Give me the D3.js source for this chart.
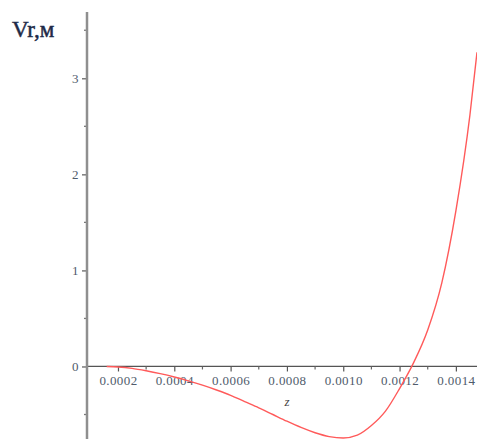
<!DOCTYPE html>
<html>
<head>
<meta charset="utf-8">
<script src="https://cdn.jsdelivr.net/npm/d3@7"></script>
<style>
  body { margin: 0; background: #fff; }
  svg { display: block; }
  .tick text { font-family: "Liberation Serif", "Times New Roman", serif; font-size: 13px; fill: #4f5b6b; letter-spacing: 0.4px; }
</style>
</head>
<body>
<div id="chart"></div>
<script>
// z values
var zValues = [0.00016, 0.0002, 0.00025, 0.0003, 0.00035, 0.0004, 0.00045, 0.0005, 0.00055, 0.0006,
  0.00065, 0.0007, 0.00075, 0.0008, 0.00085, 0.0009, 0.00095, 0.001, 0.00105, 0.0011,
  0.00115, 0.0012, 0.00125, 0.0013, 0.00135, 0.0014, 0.00145, 0.001475];
// Vr values
var vrValues = [0, -0.005, -0.02, -0.045, -0.075, -0.11, -0.15, -0.195, -0.245, -0.3,
  -0.365, -0.43, -0.5, -0.57, -0.635, -0.69, -0.73, -0.745, -0.715, -0.615,
  -0.465, -0.23, 0.04, 0.38, 0.87, 1.62, 2.62, 3.27];
var xMajorTicks = [0.0002, 0.0004, 0.0006, 0.0008, 0.0010, 0.0012, 0.0014];
var xMinorTicks = [0.0003, 0.0005, 0.0007, 0.0009, 0.0011, 0.0013];
var yMajorTicks = [0, 1, 2, 3];
var yMinorTicks = [-0.5, 0.5, 1.5, 2.5, 3.5];

var width = 477, height = 439;

var svg = d3.select("#chart").append("svg")
    .attr("width", width)
    .attr("height", height);

var x = d3.scaleLinear().domain([0.00009, 0.001475]).range([87, 477]);
var y = d3.scaleLinear().domain([-0.755, 3.69]).range([439, 12]);

// x axis
var xAxis = svg.append("g")
    .attr("transform", "translate(0," + y(0) + ")")
    .call(d3.axisBottom(x).tickValues(xMajorTicks).tickSize(5).tickPadding(4).tickFormat(d3.format(".4f")));
xAxis.select(".domain").remove();
xAxis.selectAll(".tick line").attr("stroke", "#555").attr("stroke-width", 1.2);
svg.append("line")
    .attr("x1", x.range()[0]).attr("x2", x.range()[1])
    .attr("y1", y(0)).attr("y2", y(0))
    .attr("stroke", "#555").attr("stroke-width", 1.3);
svg.append("g").selectAll("line")
    .data(xMinorTicks)
  .enter().append("line")
    .attr("x1", function(d){ return x(d) }).attr("x2", function(d){ return x(d) })
    .attr("y1", y(0)).attr("y2", y(0) + 3)
    .attr("stroke", "#666").attr("stroke-width", 1.2);

// y axis
var yAxis = svg.append("g")
    .attr("transform", "translate(" + x.range()[0] + ",0)")
    .call(d3.axisLeft(y).tickValues(yMajorTicks).tickSize(5).tickPadding(3).tickFormat(d3.format("d")));
yAxis.select(".domain").remove();
yAxis.selectAll(".tick line").attr("stroke", "#666").attr("stroke-width", 1.3);
svg.append("g").selectAll("line")
    .data(yMinorTicks)
  .enter().append("line")
    .attr("x1", x.range()[0] - 3).attr("x2", x.range()[0])
    .attr("y1", function(d){ return y(d) }).attr("y2", function(d){ return y(d) })
    .attr("stroke", "#777").attr("stroke-width", 1.3);
svg.append("line")
    .attr("x1", x.range()[0]).attr("x2", x.range()[0])
    .attr("y1", 12).attr("y2", height)
    .attr("stroke", "#8f8f8f").attr("stroke-width", 2.5);

// curve
var line = d3.line()
    .x(function(d, i){ return x(zValues[i]) })
    .y(function(d){ return y(d) })
    .curve(d3.curveMonotoneX);
svg.append("path")
    .datum(vrValues)
    .attr("d", line)
    .attr("fill", "none")
    .attr("stroke", "#ff5a5a")
    .attr("stroke-width", 1.4);

// labels
svg.append("text")
    .attr("x", 287).attr("y", 406)
    .attr("text-anchor", "middle")
    .attr("font-family", "Liberation Serif, serif")
    .attr("font-style", "italic")
    .attr("font-size", "13px")
    .attr("fill", "#444")
    .text("z");
svg.append("text")
    .attr("x", 12).attr("y", 37)
    .attr("font-family", "Liberation Serif, serif")
    .attr("font-size", "23px")
    .attr("fill", "#1e2a48")
    .attr("stroke", "#1e2a48")
    .attr("stroke-width", 0.5)
    .text("Vr,м");
</script>
</body>
</html>
